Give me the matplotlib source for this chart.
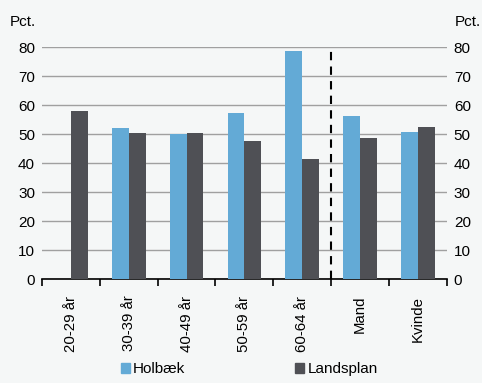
import numpy as np
import matplotlib.pyplot as plt
from matplotlib.patches import Patch

plt.rcParams['font.family'] = ['Liberation Sans', 'DejaVu Sans']

# Data
categories = ['20-29 år', '30-39 år', '40-49 år', '50-59 år', '60-64 år', 'Mand', 'Kvinde']
holbaek = [0, 52.0, 50.0, 57.2, 78.5, 56.3, 50.6]
landsplan = [58.0, 50.3, 50.3, 47.7, 41.3, 48.6, 52.6]
yticks = [0, 10, 20, 30, 40, 50, 60, 70, 80]

bg = '#f5f7f7'
blue = '#63aad6'
dark = '#4f5055'

fig = plt.figure(figsize=(4.82, 3.83), dpi=100, facecolor=bg)
ax = fig.add_axes([0.0871, 0.2715, 0.8399, 0.6055], facecolor=bg)

x = np.arange(len(categories))
w = 0.29
ax.bar(x - w / 2, holbaek, w, color=blue, zorder=3)
ax.bar(x + w / 2, landsplan, w, color=dark, zorder=3)

ax.set_xlim(-0.5, len(categories) - 0.5)
ax.set_ylim(0, 80)
ax.set_yticks(yticks)
ax.yaxis.grid(True, color='#a0a0a0', lw=1)
ax.set_axisbelow(True)
ax.tick_params(axis='y', length=0, labelsize=11, pad=5)

# x axis: labels at centres, tick marks at boundaries
ax.set_xticks(x)
ax.set_xticklabels(categories, rotation=90, fontsize=10.8)
ax.tick_params(axis='x', which='major', length=0, pad=12)
ax.set_xticks(np.arange(-0.5, len(categories)), minor=True)
ax.tick_params(axis='x', which='minor', length=5, width=1.2, color='black')

for s in ['top', 'right', 'left']:
    ax.spines[s].set_visible(False)
ax.spines['bottom'].set_color('black')
ax.spines['bottom'].set_linewidth(1.2)

# dashed divider between age groups and gender
ax.axvline(4.5, color='black', lw=1.5, ls=(0, (4, 3)), zorder=4)

# right axis
ax2 = ax.twinx()
ax2.set_ylim(0, 80)
ax2.set_yticks(yticks)
ax2.tick_params(axis='y', length=0, labelsize=11, pad=5)
for s in ax2.spines.values():
    s.set_visible(False)

fig.text(0.021, 0.932, 'Pct.', fontsize=11, ha='left', va='baseline')
fig.text(0.997, 0.932, 'Pct.', fontsize=11, ha='right', va='baseline')

handles = [Patch(color=blue, label='Holbæk'), Patch(color=dark, label='Landsplan')]
fig.legend(handles=handles, loc='lower center', bbox_to_anchor=(0.517, -0.01), ncol=2,
           frameon=False, fontsize=11, handlelength=0.6, handleheight=0.6,
           handletextpad=0.2, columnspacing=7.2, borderaxespad=0.3)

fig.savefig('out.png', dpi=100, facecolor=bg)
